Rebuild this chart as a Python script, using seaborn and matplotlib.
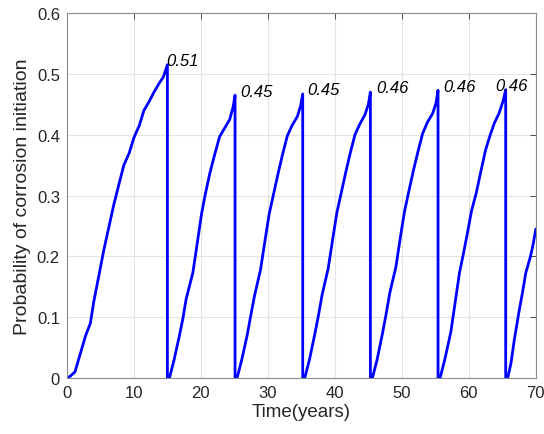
import numpy as np
import pandas as pd
import seaborn as sns
import matplotlib.pyplot as plt

# ? Dados (cada ciclo termina em uma queda para zero)
t_c1 = [0, 0.5, 1.2, 2.0, 2.8, 3.5, 4.0, 4.8, 5.5, 6.2, 7.0, 7.8, 8.5, 9.3,
        10.0, 10.8, 11.5, 12.3, 13.0, 13.8, 14.4, 15.0]
p_c1 = [0, 0.003, 0.01, 0.04, 0.07, 0.09, 0.125, 0.17, 0.21, 0.245, 0.285, 0.32,
        0.35, 0.37, 0.395, 0.415, 0.44, 0.455, 0.47, 0.485, 0.495, 0.515]

t_c2 = [15.0, 15.3, 16.0, 16.8, 17.3, 17.8, 18.8, 19.5, 20.1, 20.6, 21.3, 22.0,
        22.8, 23.5, 24.3, 24.8, 25.1]
p_c2 = [0, 0, 0.03, 0.07, 0.097, 0.13, 0.173, 0.225, 0.27, 0.299, 0.335, 0.365,
        0.397, 0.41, 0.425, 0.445, 0.465]

t_c3 = [25.1, 25.4, 26.1, 26.9, 27.4, 28.0, 28.9, 29.6, 30.2, 30.8, 31.5, 32.2,
        32.9, 33.6, 34.4, 34.9, 35.2]
p_c3 = [0, 0, 0.03, 0.07, 0.1, 0.135, 0.178, 0.228, 0.27, 0.3, 0.335, 0.368,
        0.398, 0.415, 0.43, 0.448, 0.467]

t_c4 = [35.2, 35.5, 36.2, 37.0, 37.5, 38.1, 39.0, 39.7, 40.3, 40.9, 41.6, 42.3,
        43.0, 43.7, 44.5, 45.0, 45.3]
p_c4 = [0, 0, 0.03, 0.072, 0.1, 0.137, 0.18, 0.23, 0.272, 0.302, 0.337, 0.37,
        0.4, 0.417, 0.433, 0.45, 0.47]

t_c5 = [45.3, 45.6, 46.3, 47.1, 47.6, 48.2, 49.1, 49.8, 50.4, 51.0, 51.7, 52.4,
        53.1, 53.8, 54.6, 55.1, 55.4]
p_c5 = [0, 0, 0.03, 0.073, 0.102, 0.14, 0.182, 0.233, 0.274, 0.305, 0.34, 0.372,
        0.402, 0.42, 0.435, 0.452, 0.473]

t_c6 = [55.4, 55.7, 56.4, 57.3, 57.9, 58.6, 59.2, 59.8, 60.4, 61.1, 61.8, 62.5,
        63.2, 63.8, 64.5, 65.1, 65.5]
p_c6 = [0, 0, 0.03, 0.075, 0.12, 0.173, 0.205, 0.239, 0.275, 0.304, 0.34, 0.375,
        0.4, 0.419, 0.435, 0.455, 0.474]

t_c7 = [65.5, 65.8, 66.3, 66.8, 67.5, 68.0, 68.5, 69.2, 69.6, 70.0]
p_c7 = [0, 0, 0.025, 0.064, 0.11, 0.14, 0.173, 0.2, 0.22, 0.245]

peak_labels = ["0.51", "0.45", "0.45", "0.46", "0.46", "0.46"]

ciclos = [(t_c1, p_c1), (t_c2, p_c2), (t_c3, p_c3), (t_c4, p_c4),
          (t_c5, p_c5), (t_c6, p_c6), (t_c7, p_c7)]

df = pd.DataFrame({
    "Time": np.concatenate([t for t, _ in ciclos]),
    "Prob": np.concatenate([p for _, p in ciclos]),
})

# ? Estilo
sns.set_style("white")
plt.rcParams["font.family"] = ["Liberation Sans", "DejaVu Sans"]

fig = plt.figure(figsize=(5.44, 4.35), dpi=100)
ax = fig.add_axes([0.123, 0.1287, 0.862, 0.839])

sns.lineplot(data=df, x="Time", y="Prob", sort=False, estimator=None,
             color="#0000ff", linewidth=2.0, ax=ax)

# ? Rótulos dos picos
label_dx = [-0.7, 3.5, 3.5, 4.3, 3.5, -7.5]
for (t, p), txt, dx in zip(ciclos[:6], peak_labels, label_dx):
    ax.annotate(txt, xy=(t[-1], p[-1]), xytext=(dx, 3), textcoords="offset points",
                ha="left", va="center", fontsize=12, fontstyle="italic", color="black")

ax.set_xlim(0, 70)
ax.set_ylim(0, 0.6)
ax.set_xticks(range(0, 71, 10))
ax.set_yticks([0, 0.1, 0.2, 0.3, 0.4, 0.5, 0.6])
ax.set_yticklabels(["0", "0.1", "0.2", "0.3", "0.4", "0.5", "0.6"])

ax.grid(True, color="#e3e3e3", linewidth=0.8)
ax.set_axisbelow(True)
ax.tick_params(direction="in", length=4, width=0.7, color="#4d4d4d",
               top=True, right=True, labelsize=12, labelcolor="#262626", pad=5)
for s in ax.spines.values():
    s.set_color("#8c8c8c")
    s.set_linewidth(0.8)

ax.set_xlabel("Time(years)", fontsize=13.5, color="#262626", labelpad=2)
ax.set_ylabel("Probability of corrosion initiation", fontsize=14, color="#262626", labelpad=4)

fig.savefig("out.png", dpi=100)
